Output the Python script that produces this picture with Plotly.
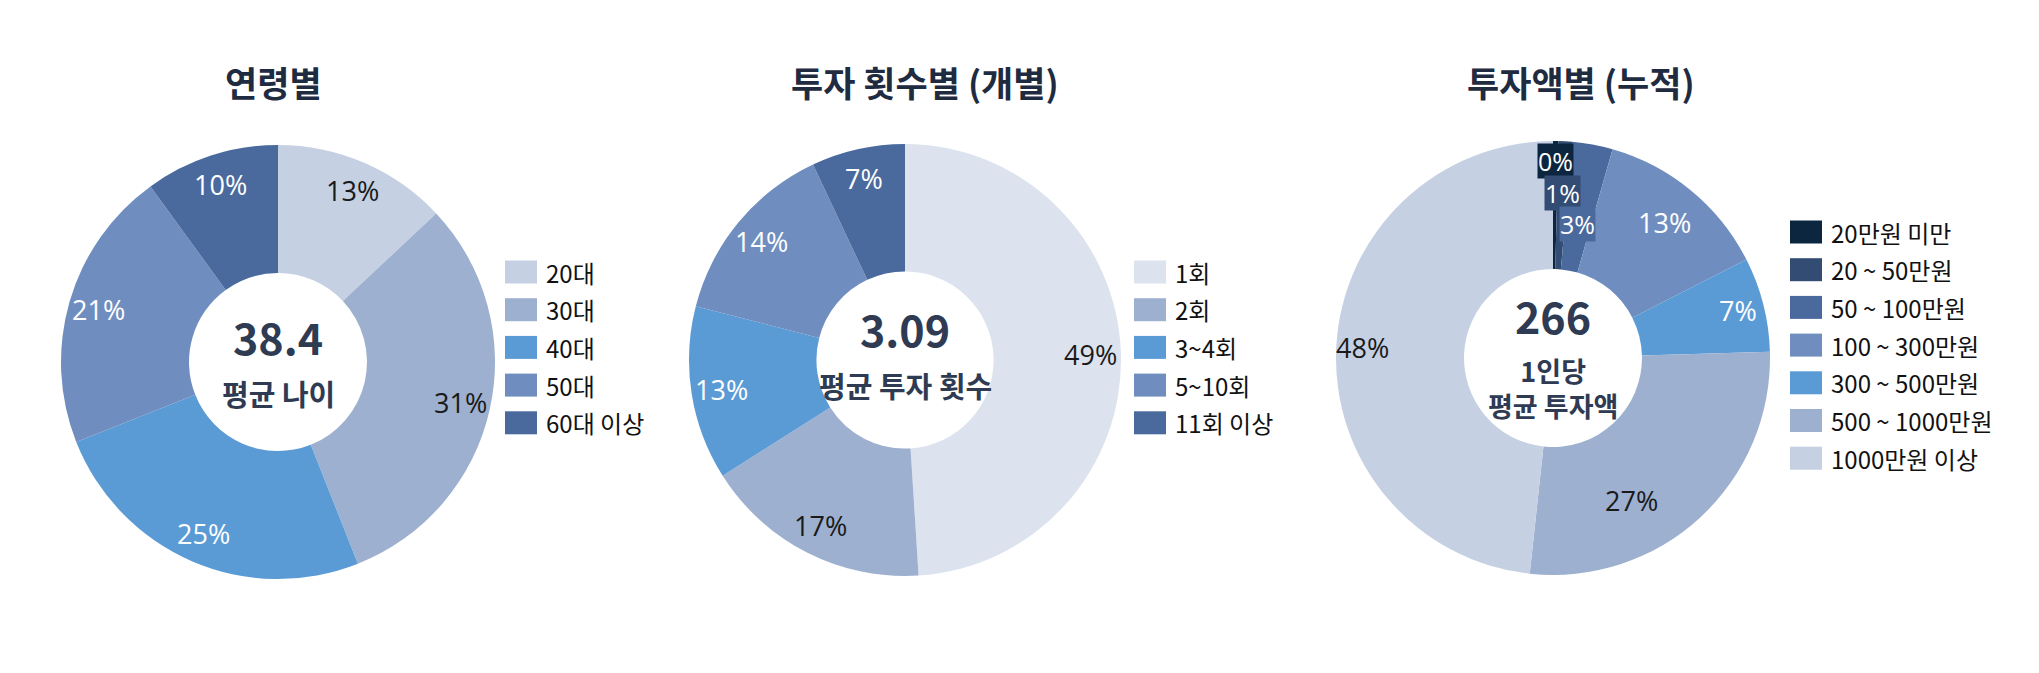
import math

import plotly.graph_objects as go

W, H = 2039, 673
FONT = "Noto Sans CJK KR"
LABEL_FONT = "Open Sans, Noto Sans CJK KR"
NAVY = "#1f2b40"
SLATE = "#2e3b52"

# --- data ---------------------------------------------------------------
age_labels = ["20대", "30대", "40대", "50대", "60대 이상"]
age_values = [13, 31, 25, 21, 10]
age_colors = ["#c5d0e3", "#9db0cf", "#5b9bd5", "#6f8ebf", "#4a6a9d"]
age_textcolors = ["#1a1a1a", "#1a1a1a", "white", "white", "white"]

count_labels = ["1회", "2회", "3~4회", "5~10회", "11회 이상"]
count_values = [49, 17, 13, 14, 7]
count_colors = ["#dde3ee", "#9db0cf", "#5b9bd5", "#6f8ebf", "#4a6a9d"]
count_textcolors = ["#1a1a1a", "#1a1a1a", "white", "white", "white"]

amount_labels = ["20만원 미만", "20 ~ 50만원", "50 ~ 100만원", "100 ~ 300만원",
                 "300 ~ 500만원", "500 ~ 1000만원", "1000만원 이상"]
amount_values = [0.4, 1, 3, 13, 7, 27, 48]
amount_colors = ["#0d2640", "#324c73", "#4a6a9d", "#6f8ebf", "#5b9bd5", "#9db0cf", "#c5d0e3"]
amount_textcolors = ["white", "white", "white", "white", "white", "#1a1a1a", "#1a1a1a"]

titles = ["연령별", "투자 횟수별 (개별)", "투자액별 (누적)"]
center_big = ["38.4", "3.09", "266"]
center_small = ["평균 나이", "평균 투자 횟수", "1인당<br>평균 투자액"]

# --- layout geometry (pixels) -------------------------------------------
pies = [
    dict(cx=278, cy=362, r=217, legend_x=505, legend_y0=272, split=369, small_size=29),
    dict(cx=905, cy=360, r=216, legend_x=1134, legend_y0=272, split=361, small_size=29),
    dict(cx=1553, cy=358, r=217, legend_x=1790, legend_y0=232, split=348, small_size=27),
]
title_x = [273, 925, 1581]
LEGEND_STEP = 37.7
HOLE = 0.41

# where each percentage label sits: fraction of the radius along the slice bisector,
# plus an optional angular nudge (degrees) - mimics the original's "best fit" labels
label_r = [
    [0.86] * 5,
    [0.86] * 5,
    [0.91, 0.76, 0.63, 0.81, 0.88, 0.75, 0.88],
]
label_nudge = {(2, 5): 14}
boxed = {(2, 0), (2, 1), (2, 2)}   # thin slices get a filled label box


def px(x):
    return x / W


def py(y):
    return 1 - y / H


def domain(p):
    return dict(x=[px(p["cx"] - p["r"]), px(p["cx"] + p["r"])],
                y=[py(p["cy"] + p["r"]), py(p["cy"] - p["r"])])


datasets = [
    (age_labels, age_values, age_colors, age_textcolors),
    (count_labels, count_values, count_colors, count_textcolors),
    (amount_labels, amount_values, amount_colors, amount_textcolors),
]

fig = go.Figure()
for i, (labels, values, colors, tcolors) in enumerate(datasets):
    p = pies[i]
    fig.add_trace(go.Pie(
        labels=labels, values=values, sort=False, direction="clockwise", rotation=0,
        hole=HOLE, domain=domain(p), showlegend=False,
        marker=dict(colors=colors, line=dict(width=0)),
        textinfo="none", hoverinfo="label+percent",
    ))

    # percentage labels along each slice's bisector
    total = sum(values)
    cum = 0
    for k, v in enumerate(values):
        ang = math.radians((cum + v / 2) / total * 360 + label_nudge.get((i, k), 0))
        rr = label_r[i][k] * p["r"]
        x = p["cx"] + rr * math.sin(ang)
        y = p["cy"] - rr * math.cos(ang)
        is_boxed = (i, k) in boxed
        fig.add_annotation(xref="paper", yref="paper", x=px(x), y=py(y),
                           text=f"{round(v / total * 100)}%", showarrow=False,
                           xanchor="center", yanchor="middle",
                           bgcolor=colors[k] if is_boxed else None, borderpad=0,
                           font=dict(family=LABEL_FONT, size=25 if is_boxed else 27,
                                     color=tcolors[k]))
        cum += v

    # legend, drawn by hand so the swatches match the reference
    for k, (lab, col) in enumerate(zip(labels, colors)):
        yc = p["legend_y0"] + k * LEGEND_STEP
        x0 = p["legend_x"]
        fig.add_shape(type="rect", xref="paper", yref="paper",
                      x0=px(x0), x1=px(x0 + 32), y0=py(yc + 11.5), y1=py(yc - 11.5),
                      fillcolor=col, line=dict(width=0))
        fig.add_annotation(xref="paper", yref="paper", x=px(x0 + 39), y=py(yc),
                           text=lab, showarrow=False, xanchor="left", yanchor="middle",
                           font=dict(family=FONT, size=24, color="#111111"))

    # titles and centre text
    fig.add_annotation(xref="paper", yref="paper", x=px(title_x[i]), y=py(81),
                       text=f"<b>{titles[i]}</b>", showarrow=False,
                       xanchor="center", yanchor="middle",
                       font=dict(family=FONT, size=35, color=NAVY))
    fig.add_annotation(xref="paper", yref="paper", x=px(p["cx"]), y=py(p["split"]),
                       text=f"<b>{center_big[i]}</b>", showarrow=False,
                       xanchor="center", yanchor="bottom",
                       font=dict(family=FONT, size=43, color=SLATE))
    fig.add_annotation(xref="paper", yref="paper", x=px(p["cx"]), y=py(p["split"] + 1),
                       text=f"<b>{center_small[i]}</b>", showarrow=False,
                       xanchor="center", yanchor="top",
                       font=dict(family=FONT, size=p["small_size"], color=SLATE))

fig.update_layout(
    width=W, height=H, margin=dict(l=0, r=0, t=0, b=0),
    paper_bgcolor="white", plot_bgcolor="white",
    showlegend=False,
)

fig.write_html("out.html", config={"displayModeBar": False},
               post_script="document.body.style.margin = '0px';")
